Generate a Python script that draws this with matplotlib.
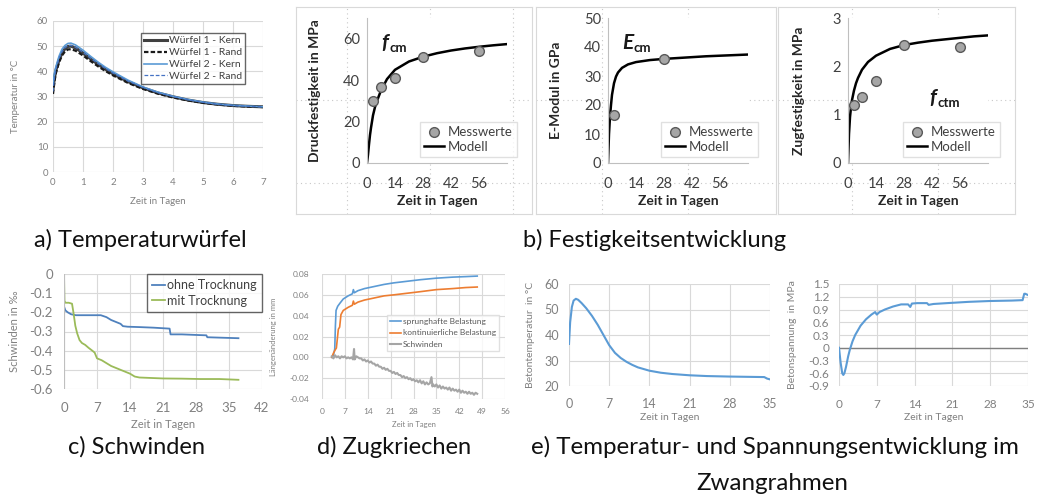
import matplotlib
matplotlib.use("Agg")
import matplotlib.pyplot as plt

plt.rcParams["font.family"] = ["Lato", "DejaVu Sans"]
plt.rcParams["axes.unicode_minus"] = False

# a) Temperaturwürfel
tage_a = [0, 0.05, 0.1, 0.2, 0.3, 0.4, 0.5, 0.6, 0.75, 1.0, 1.25, 1.5, 1.75, 2.0,
          2.5, 3.0, 3.5, 4.0, 4.5, 5.0, 5.5, 6.0, 6.5, 7.0]
w1_kern = [33, 37.5, 40.5, 44.5, 47.3, 49.0, 49.9, 50.0, 49.3, 47.3, 45.0, 42.8, 40.8, 39.0,
           35.9, 33.4, 31.4, 29.9, 28.6, 27.6, 26.9, 26.4, 26.1, 25.9]
w1_rand = [31, 36, 39.5, 43.5, 46.3, 47.9, 48.7, 48.8, 48.2, 46.3, 44.1, 42.0, 40.1, 38.4,
           35.4, 33.0, 31.1, 29.6, 28.4, 27.5, 26.8, 26.3, 26.0, 25.8]
w2_kern = [35, 39.5, 42.0, 46.0, 48.8, 50.3, 51.1, 51.2, 50.5, 48.4, 46.0, 43.7, 41.6, 39.8,
           36.5, 33.8, 31.7, 30.1, 28.8, 27.8, 27.0, 26.5, 26.2, 25.9]
w2_rand = [32, 37.5, 41.0, 45.0, 47.8, 49.4, 50.2, 50.3, 49.6, 47.6, 45.3, 43.1, 41.1, 39.3,
           36.1, 33.6, 31.5, 30.0, 28.7, 27.7, 26.9, 26.4, 26.1, 25.9]

# b) Festigkeitsentwicklung
tage_mess = [3, 7, 14, 28, 56]
fcm_mess = [29.8, 36.5, 41.2, 51.3, 54.0]
fctm_mess = [1.21, 1.36, 1.69, 2.44, 2.41]
tage_e_mess = [3, 28]
ecm_mess = [16.4, 35.8]
tage_modell = [0, 0.5, 1, 1.5, 2, 3, 4, 5, 7, 10, 14, 21, 28, 35, 42, 49, 56, 63, 70]
fcm_modell = [0, 4, 9, 13.5, 17, 23, 27, 30, 35, 40.5, 45, 49, 51.3, 53, 54.3, 55.3, 56.1, 56.8, 57.4]
ecm_modell = [0, 10, 16, 20, 23.5, 27.5, 29.8, 31.2, 32.8, 34.0, 34.8, 35.5, 35.9, 36.2, 36.5,
              36.8, 37.0, 37.2, 37.4]
fctm_modell = [0, 0.6, 0.95, 1.15, 1.3, 1.5, 1.65, 1.76, 1.93, 2.09, 2.22, 2.36, 2.44, 2.49,
               2.53, 2.56, 2.59, 2.62, 2.64]

# c) Schwinden
tage_ohne = [0, 0.3, 0.8, 1.5, 2.5, 4, 6, 7.8, 9, 10, 11, 12, 12.5, 13.5, 16, 19, 22.4, 22.6,
             25, 28, 30.2, 30.4, 33, 37]
ohne_trocknung = [-0.17, -0.19, -0.2, -0.21, -0.215, -0.215, -0.215, -0.215, -0.225, -0.24,
                  -0.25, -0.26, -0.272, -0.275, -0.277, -0.28, -0.285, -0.315, -0.315, -0.318,
                  -0.32, -0.33, -0.332, -0.335]
tage_mit = [0, 0.1, 0.3, 1.0, 1.7, 2.0, 2.4, 2.8, 3.3, 3.8, 4.5, 5.2, 6.0, 6.5, 7.0, 8.0, 9.0,
            10.0, 11.0, 12.0, 13.0, 14.0, 15.0, 16.0, 18.0, 21.0, 25.0, 29.0, 33.0, 37.0]
mit_trocknung = [0.0, -0.14, -0.15, -0.15, -0.155, -0.2, -0.27, -0.31, -0.345, -0.36, -0.37,
                 -0.385, -0.4, -0.41, -0.44, -0.45, -0.465, -0.48, -0.49, -0.5, -0.51, -0.52,
                 -0.535, -0.54, -0.542, -0.545, -0.546, -0.548, -0.548, -0.552]

# d) Zugkriechen
tage_sprung = [3.0, 3.5, 3.9, 4.1, 4.3, 4.8, 5.5, 6.5, 8.0, 9.3, 9.6, 9.9, 11.0, 13.0, 16.0,
               19.0, 22.0, 26.0, 30.0, 35.0, 40.0, 44.0, 47.5]
sprunghaft = [0.000, 0.002, 0.008, 0.030, 0.045, 0.049, 0.052, 0.056, 0.059, 0.061, 0.065,
              0.062, 0.064, 0.066, 0.068, 0.070, 0.0715, 0.073, 0.0745, 0.076, 0.077, 0.0775,
              0.078]
tage_kont = [3.0, 3.5, 4.0, 4.4, 4.7, 5.0, 5.4, 5.8, 6.5, 8.0, 9.3, 9.6, 9.9, 11.0, 13.0, 16.0,
             19.0, 22.0, 26.0, 30.0, 35.0, 40.0, 44.0, 47.5]
kontinuierlich = [0.000, 0.004, 0.007, 0.009, 0.018, 0.027, 0.029, 0.041, 0.045, 0.048, 0.050,
                  0.054, 0.051, 0.053, 0.055, 0.057, 0.059, 0.060, 0.0615, 0.063, 0.065, 0.066,
                  0.067, 0.0675]
tage_schw = [3.0, 3.5, 4.0, 4.5, 5.0, 5.5, 6.0, 6.5, 7.0, 7.5, 8.0, 8.5, 9.0, 9.5, 9.8, 10.0,
             10.5, 11.0, 11.5, 12.0, 12.5, 13.0, 13.5, 14.0, 14.5, 15.0, 15.5, 16.0, 16.5, 17.0,
             17.5, 18.0, 18.5, 19.0, 19.5, 20.0, 20.5, 21.0, 21.5, 22.0, 22.5, 23.0, 23.5, 24.0,
             24.5, 25.0, 25.5, 26.0, 26.5, 27.0, 27.5, 28.0, 28.5, 29.0, 29.5, 30.0, 30.5, 31.0,
             31.5, 32.0, 32.5, 33.0, 33.5, 33.8, 34.0, 34.5, 35.0, 35.5, 36.0, 36.5, 37.0, 37.5,
             38.0, 38.5, 39.0, 39.5, 40.0, 40.5, 41.0, 41.5, 42.0, 42.5, 43.0, 43.5, 44.0, 44.5,
             45.0, 45.5, 46.0, 46.5, 47.0, 47.5]
schwinden_d = [0.001, -0.001, 0.002, 0.000, 0.001, -0.001, 0.001, 0.000, 0.001, -0.001, 0.000,
               -0.001, 0.000, -0.002, 0.008, -0.002, 0.001, 0.000, -0.001, -0.001, -0.003,
               -0.002, -0.004, -0.003, -0.005, -0.004, -0.006, -0.006, -0.008, -0.007, -0.009,
               -0.009, -0.011, -0.010, -0.012, -0.011, -0.013, -0.013, -0.015, -0.014, -0.016,
               -0.015, -0.017, -0.017, -0.019, -0.018, -0.020, -0.019, -0.021, -0.020, -0.022,
               -0.021, -0.023, -0.022, -0.024, -0.022, -0.025, -0.023, -0.026, -0.024, -0.026,
               -0.025, -0.019, -0.028, -0.026, -0.028, -0.026, -0.029, -0.027, -0.030, -0.028,
               -0.030, -0.029, -0.031, -0.029, -0.032, -0.030, -0.032, -0.031, -0.033, -0.031,
               -0.034, -0.032, -0.034, -0.033, -0.035, -0.033, -0.035, -0.034, -0.036, -0.034,
               -0.035]

# e) Zwangrahmen
tage_temp = [0, 0.2, 0.5, 0.8, 1.2, 1.6, 2.2, 3, 4, 5, 6, 7, 8, 9, 10, 11, 12, 14, 16, 18, 21,
             24, 28, 31, 34, 34.5, 35]
betontemperatur = [36.5, 45, 51, 53.5, 54.2, 53.8, 52.5, 50.5, 47.5, 44, 40, 36, 33, 31, 29.5,
                   28.3, 27.3, 26, 25.2, 24.7, 24.2, 23.9, 23.7, 23.6, 23.5, 22.9, 22.6]
tage_spann = [0, 0.3, 0.6, 0.8, 1.0, 1.3, 1.7, 2.0, 2.5, 3.0, 4.0, 5.0, 6.0, 6.7, 7.0, 7.5, 8.5,
              10.0, 11.5, 12.8, 13.2, 13.5, 14.5, 16.3, 16.6, 17.5, 20.0, 24.0, 28.0, 32.0,
              34.0, 34.3, 34.5, 35.0]
betonspannung = [0.0, -0.35, -0.6, -0.64, -0.6, -0.45, -0.2, -0.05, 0.15, 0.3, 0.52, 0.67,
                 0.78, 0.84, 0.78, 0.84, 0.9, 0.97, 1.02, 1.02, 0.96, 1.04, 1.05, 1.05, 1.01,
                 1.03, 1.05, 1.08, 1.1, 1.11, 1.12, 1.27, 1.27, 1.24]

ticks_7 = [0, 7, 14, 21, 28, 35, 42, 49, 56]
ticks_c = [0, -0.1, -0.2, -0.3, -0.4, -0.5, -0.6]
labels_c = ["0", "-0.1", "-0.2", "-0.3", "-0.4", "-0.5", "-0.6"]
ticks_d = [-0.04, -0.02, 0.0, 0.02, 0.04, 0.06, 0.08]
labels_d = ["-0.04", "-0.02", "0.00", "0.02", "0.04", "0.06", "0.08"]
ticks_sp = [-0.9, -0.6, -0.3, 0, 0.3, 0.6, 0.9, 1.2, 1.5]
labels_sp = ["-0.9", "-0.6", "-0.3", "0", "0.3", "0.6", "0.9", "1.2", "1.5"]

GRAU = "#808080"
GITTER = "#d9d9d9"
BLAU = "#5b9bd5"

W, H = 1037, 497
fig = plt.figure(figsize=(W / 100, H / 100), dpi=100)


def add_ax(box, **kw):
    l, t, r, b = box
    return fig.add_axes([l / W, 1 - b / H, (r - l) / W, (b - t) / H], **kw)


def to_ax(box, x, y):
    l, t, r, b = box
    return (x - l) / (r - l), (b - y) / (b - t)


def ftext(x, y, s, **kw):
    fig.text(x / W, 1 - y / H, s, **kw)


def excel_axes(ax, box, tsize, lsize, xpad, ypad, xlab_y, ylab_x, ylabel_text):
    for s in ax.spines.values():
        s.set_visible(False)
    ax.grid(True, color=GITTER, lw=0.8)
    ax.set_axisbelow(True)
    ax.tick_params(length=0, labelsize=tsize, labelcolor=GRAU)
    ax.tick_params(axis="x", pad=xpad)
    ax.tick_params(axis="y", pad=ypad)
    ax.set_ylabel(ylabel_text, fontsize=lsize, color=GRAU)
    ax.yaxis.set_label_coords(to_ax(box, ylab_x, box[1])[0], 0.5)
    # achsentitel unten als freier text, mittig unter der zeichenfläche
    ftext((box[0] + box[2]) / 2, xlab_y, "Zeit in Tagen", fontsize=lsize, color=GRAU,
          ha="center", va="top")


# ---- a) Temperaturwürfel
box_a = (53, 21, 263, 172)
ax = add_ax(box_a)
ax.plot(tage_a, w1_kern, color="#404040", lw=2.2, label="Würfel 1 - Kern")
ax.plot(tage_a, w1_rand, color="#1a1a1a", lw=1.6, ls=(0, (2, 1)), label="Würfel 1 - Rand")
ax.plot(tage_a, w2_kern, color=BLAU, lw=1.2, label="Würfel 2 - Kern")
ax.plot(tage_a, w2_rand, color="#4472c4", lw=0.9, ls=(0, (3, 1.5)), label="Würfel 2 - Rand")
ax.set_xlim(0, 7)
ax.set_ylim(0, 60)
ax.set_xticks(range(0, 8))
ax.set_yticks(range(0, 70, 10))
excel_axes(ax, box_a, 7, 7, 4.5, 3.6, 197, 20, "Temperatur in °C")
leg = ax.legend(loc="upper right", bbox_to_anchor=to_ax(box_a, 245, 33), borderaxespad=0,
                fontsize=7.5, frameon=True, fancybox=False, handlelength=2.2,
                handletextpad=0.2, labelspacing=0.25, borderpad=0.3)
leg.get_frame().set_edgecolor("#404040")
leg.get_frame().set_linewidth(1.0)
for t in leg.get_texts():
    t.set_color("#404040")

# ---- b) Festigkeitsentwicklung: three framed charts
rahmen = [(296, 7, 532, 214), (536, 7, 776, 214), (778, 7, 1015, 214)]
punkte_v = [[347, 430, 513], [602, 688], [852, 938]]
for (l, t, r, b), xs in zip(rahmen, punkte_v):
    bg = add_ax((l, t, r, b))
    bg.set_xticks([])
    bg.set_yticks([])
    for s in bg.spines.values():
        s.set_color(GITTER)
    for y in (100, 183):
        bg.axhline((b - y) / (b - t), color="#c8c8c8", lw=0.8, ls=(0, (1, 3)))
    for x in xs:
        bg.axvline((x - l) / (r - l), color="#c8c8c8", lw=0.8, ls=(0, (1, 3)))

festigkeit = [
    ((367, 18, 507, 163), tage_mess, fcm_mess, fcm_modell, 70, [0, 20, 40, 60],
     "Druckfestigkeit in MPa", 314, 517),
    ((608, 18, 748, 163), tage_e_mess, ecm_mess, ecm_modell, 50, [0, 10, 20, 30, 40, 50],
     "E-Modul in GPa", 555, 758),
    ((848, 18, 988, 163), tage_mess, fctm_mess, fctm_modell, 3, [0, 1, 2, 3],
     "Zugfestigkeit in MPa", 798, 1000),
]
for box, tm, mess, modell, ymax, yt, ylab, ylx, legx in festigkeit:
    ax = add_ax(box)
    ax.plot(tm, mess, "o", ms=7, mfc="#a6a6a6", mec="#595959", mew=1.0, zorder=3,
            label="Messwerte")
    ax.plot(tage_modell, modell, color="black", lw=1.8, label="Modell")
    ax.set_xlim(0, 70)
    ax.set_ylim(0, ymax)
    ax.set_xticks([0, 14, 28, 42, 56])
    ax.set_yticks(yt)
    for s in ("top", "right"):
        ax.spines[s].set_visible(False)
    for s in ("left", "bottom"):
        ax.spines[s].set_color("#bfbfbf")
    ax.tick_params(length=0, labelsize=10.5, labelcolor="#404040")
    ax.tick_params(axis="x", pad=10)
    ax.tick_params(axis="y", pad=5)
    ax.set_xlabel("Zeit in Tagen", fontsize=10, fontweight="bold", color="#262626")
    ax.set_ylabel(ylab, fontsize=10, fontweight="bold", color="#262626")
    ax.xaxis.set_label_coords(0.5, to_ax(box, 0, 195)[1])
    ax.yaxis.set_label_coords(to_ax(box, ylx + 7, 0)[0], 0.5)
    leg = ax.legend(loc="lower right", bbox_to_anchor=to_ax(box, legx, 157), borderaxespad=0,
                    fontsize=9.5, fancybox=False, handlelength=1.5, handletextpad=0.3,
                    labelspacing=0.2, borderpad=0.3)
    leg.get_frame().set_edgecolor(GITTER)
    for t in leg.get_texts():
        t.set_color("#404040")

# bezeichnungen der kennwerte
for x, y, sym, sub in [(385, 43, "f", "cm"), (628, 43, "E", "cm"), (933, 98, "f", "ctm")]:
    ftext(x, y, sym, fontsize=15, fontweight="bold", fontstyle="italic", ha="center",
          va="center", color="#1a1a1a")
    ftext(x + 5, y + 5, sub, fontsize=9.5, fontweight="bold", ha="left", va="center",
          color="#1a1a1a")

# ---- c) Schwinden
box_c = (64, 274, 262, 389)
ax = add_ax(box_c)
ax.plot(tage_ohne, ohne_trocknung, color="#4f81bd", lw=1.3, label="ohne Trocknung")
ax.plot(tage_mit, mit_trocknung, color="#9bbb59", lw=1.3, label="mit Trocknung")
ax.set_xlim(0, 42)
ax.set_ylim(-0.6, 0)
ax.set_xticks(ticks_7[:7])
ax.set_yticks(ticks_c)
ax.set_yticklabels(labels_c)
excel_axes(ax, box_c, 9.5, 8, 9, 8, 419, 20, "Schwinden in ‰")
ax.axvline(0, color="#bfbfbf", lw=0.8)
leg = ax.legend(loc="upper right", bbox_to_anchor=(1.0, 1.0), borderaxespad=0, fontsize=9,
                fancybox=False, handlelength=1.0, handletextpad=0.2, labelspacing=0.3,
                borderpad=0.4)
leg.get_frame().set_edgecolor("#404040")
for t in leg.get_texts():
    t.set_color("#404040")

# ---- d) Zugkriechen
box_d = (322, 274, 505, 399)
ax = add_ax(box_d)
ax.plot(tage_sprung, sprunghaft, color=BLAU, lw=1.2, label="sprunghafte Belastung")
ax.plot(tage_kont, kontinuierlich, color="#ed7d31", lw=1.2, label="kontinuierliche Belastung")
ax.plot(tage_schw, schwinden_d, color="#a5a5a5", lw=1.5, label="Schwinden")
ax.set_xlim(0, 56)
ax.set_ylim(-0.04, 0.08)
ax.set_xticks(ticks_7)
ax.set_yticks(ticks_d)
ax.set_yticklabels(labels_d)
excel_axes(ax, box_d, 6, 5.5, 6.5, 9, 421, 277, "Längenänderung in mm")
leg = ax.legend(loc="upper right", bbox_to_anchor=to_ax(box_d, 499, 315), borderaxespad=0,
                fontsize=6, fancybox=False, handlelength=1.3, handletextpad=0.2,
                labelspacing=0.5, borderpad=0.4)
leg.get_frame().set_edgecolor(GITTER)
for t in leg.get_texts():
    t.set_color("#595959")

# ---- e) Temperatur- und Spannungsentwicklung im Zwangrahmen
box_e1 = (569, 284, 770, 386)
ax = add_ax(box_e1)
ax.plot(tage_temp, betontemperatur, color=BLAU, lw=1.5)
ax.set_xlim(0, 35)
ax.set_ylim(20, 60)
ax.set_xticks(ticks_7[:6])
ax.set_yticks([20, 30, 40, 50, 60])
excel_axes(ax, box_e1, 9, 7.5, 9, 7, 413, 535, "Betontemperatur  in °C")

box_e2 = (839, 284, 1028, 386)
ax = add_ax(box_e2)
ax.axhline(0, color="#7f7f7f", lw=1.0)
ax.plot(tage_spann, betonspannung, color=BLAU, lw=1.5)
ax.set_xlim(0, 35)
ax.set_ylim(-0.9, 1.5)
ax.set_xticks(ticks_7[:6])
ax.set_yticks(ticks_sp)
ax.set_yticklabels(labels_sp)
excel_axes(ax, box_e2, 8.5, 7.5, 9, 7, 413, 797, "Betonspannung  in MPa")

# ---- Bildunterschriften
for x, y, s, fs in [(140, 240, "a) Temperaturwürfel", 17), (655, 240, "b) Festigkeitsentwicklung", 17),
                    (137, 447, "c) Schwinden", 17), (394, 447, "d) Zugkriechen", 17),
                    (775, 447, "e) Temperatur- und Spannungsentwicklung im", 17.4),
                    (772, 483, "Zwangrahmen", 17.4)]:
    ftext(x, y, s, fontsize=fs, ha="center", va="center", color="#111111")

fig.savefig("out.png", dpi=100)
